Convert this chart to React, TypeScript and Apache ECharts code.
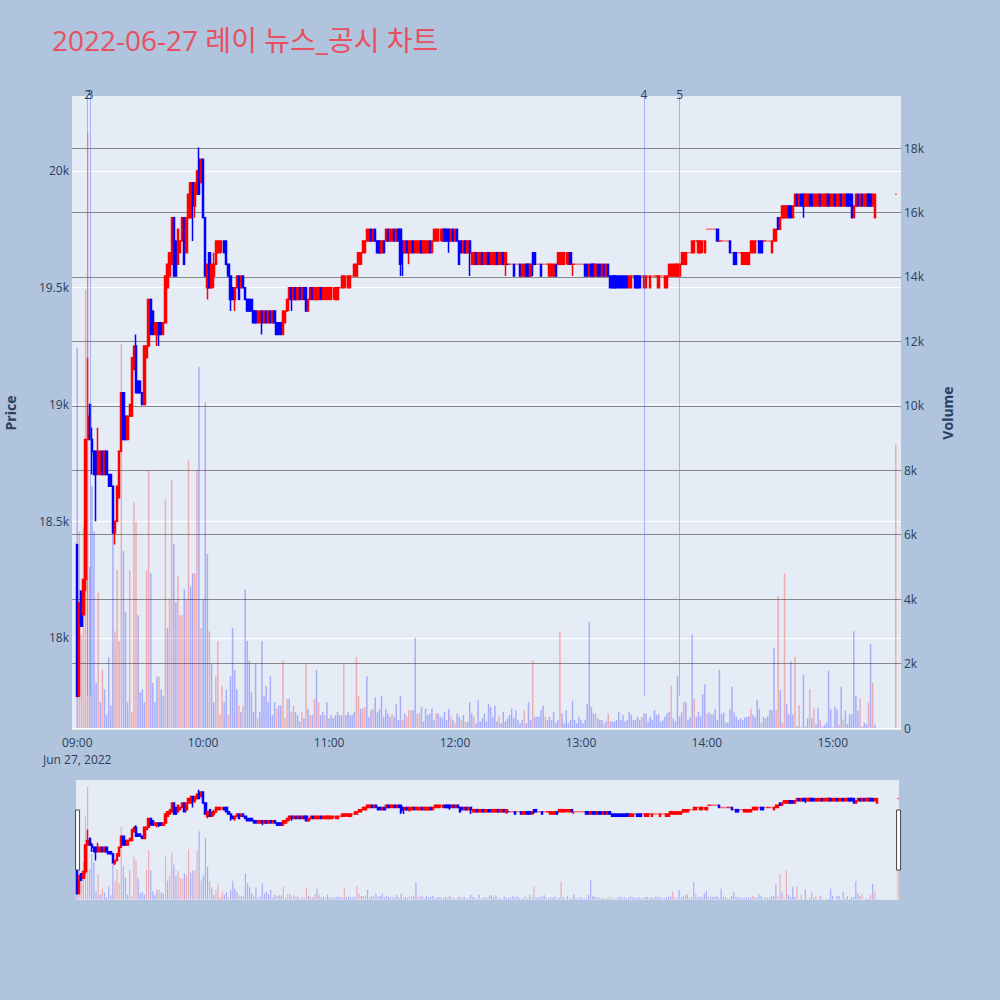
import React, { useEffect, useRef } from 'react';
import * as echarts from 'echarts';

// ---------------- DATA ----------------
const TITLE = '2022-06-27 레이 뉴스_공시 차트';
const DATE_LABEL = 'Jun 27, 2022';

// one candle per minute from 09:00: [open, close, low, high]
const candles09 = [
  [18400, 17750, 17750, 18400], [17750, 18150, 17750, 18150], [18200, 18050, 18050, 18200], [18100, 18250, 18100, 18250], [18250, 18850, 18200, 18850],
  [18850, 18950, 18850, 19200], [19000, 18850, 18850, 19000], [18850, 18800, 18700, 18900], [18800, 18700, 18700, 18800], [18800, 18700, 18500, 18800],
  [18700, 18800, 18700, 18900], [18700, 18800, 18700, 18800], [18800, 18700, 18700, 18800], [18700, 18800, 18700, 18800], [18800, 18700, 18700, 18800],
  [18700, 18650, 18650, 18700], [18700, 18650, 18650, 18700], [18650, 18450, 18450, 18650], [18450, 18500, 18400, 18500], [18500, 18650, 18500, 18650],
  [18600, 18800, 18600, 18800], [18800, 19050, 18800, 19050], [19050, 18850, 18850, 19050], [18950, 18850, 18850, 18950], [18850, 18950, 18850, 18950],
  [18950, 19000, 18950, 19000], [18950, 19200, 18950, 19200], [19150, 19250, 19150, 19250], [19250, 19050, 19050, 19300], [19100, 19050, 19050, 19100],
  [19100, 19050, 19050, 19100], [19050, 19000, 19000, 19050], [19000, 19250, 19000, 19250], [19200, 19250, 19200, 19250], [19250, 19450, 19250, 19450],
  [19450, 19300, 19300, 19450], [19400, 19300, 19300, 19400], [19300, 19350, 19300, 19350], [19300, 19350, 19250, 19350], [19350, 19300, 19250, 19350],
  [19350, 19300, 19300, 19350], [19300, 19350, 19300, 19350], [19350, 19550, 19350, 19550], [19500, 19600, 19500, 19600], [19550, 19650, 19550, 19650],
  [19600, 19800, 19600, 19800], [19800, 19550, 19550, 19800], [19700, 19550, 19550, 19700], [19600, 19750, 19600, 19750], [19650, 19700, 19650, 19700],
  [19700, 19800, 19700, 19800], [19800, 19600, 19600, 19800], [19650, 19800, 19650, 19800], [19800, 19900, 19800, 19900], [19800, 19950, 19800, 19950],
  [19950, 19850, 19700, 19950], [19850, 19950, 19800, 19950], [19900, 20000, 19900, 20000], [20050, 19900, 19900, 20100], [19950, 20050, 19950, 20050],
];
const candles10 = [
  [20050, 19800, 19800, 20050], [19800, 19550, 19550, 19800], [19500, 19600, 19450, 19600], [19650, 19500, 19500, 19650], [19500, 19600, 19500, 19600],
  [19550, 19600, 19500, 19650], [19600, 19700, 19600, 19700], [19650, 19700, 19650, 19700], [19650, 19700, 19650, 19700], [19700, 19700, 19650, 19700],
  [19700, 19650, 19650, 19700], [19700, 19600, 19600, 19700], [19600, 19550, 19550, 19600], [19550, 19450, 19400, 19550], [19500, 19450, 19450, 19500],
  [19450, 19500, 19400, 19500], [19500, 19550, 19500, 19550], [19550, 19450, 19450, 19550], [19500, 19550, 19500, 19550], [19550, 19500, 19500, 19550],
  [19500, 19450, 19450, 19500], [19450, 19400, 19400, 19450], [19450, 19400, 19400, 19450], [19450, 19400, 19400, 19450], [19400, 19350, 19350, 19400],
  [19400, 19350, 19350, 19400], [19350, 19400, 19350, 19400], [19350, 19400, 19350, 19400], [19400, 19350, 19300, 19400], [19350, 19400, 19350, 19400],
  [19400, 19350, 19350, 19400], [19350, 19400, 19350, 19400], [19400, 19350, 19350, 19400], [19350, 19400, 19350, 19400], [19400, 19350, 19350, 19400],
  [19350, 19300, 19300, 19350], [19350, 19300, 19300, 19350], [19350, 19300, 19300, 19350], [19300, 19400, 19300, 19400], [19350, 19400, 19350, 19400],
  [19400, 19450, 19400, 19450], [19450, 19500, 19400, 19500], [19500, 19450, 19400, 19500], [19450, 19500, 19450, 19500], [19500, 19450, 19450, 19500],
  [19450, 19500, 19450, 19500], [19500, 19450, 19450, 19500], [19450, 19500, 19450, 19500], [19500, 19450, 19450, 19500], [19500, 19400, 19400, 19500],
  [19400, 19450, 19400, 19450], [19450, 19500, 19450, 19500], [19500, 19450, 19450, 19500], [19450, 19500, 19450, 19500], [19450, 19500, 19450, 19500],
  [19450, 19500, 19450, 19500], [19500, 19450, 19450, 19500], [19450, 19500, 19450, 19500], [19450, 19500, 19450, 19500], [19450, 19500, 19450, 19500],
];
const candles11 = [
  [19450, 19500, 19450, 19500], [19450, 19500, 19450, 19500], [19500, 19500, 19450, 19500], [19450, 19500, 19450, 19500], [19450, 19500, 19450, 19500],
  [19500, 19500, 19500, 19500], [19500, 19550, 19500, 19550], [19500, 19550, 19500, 19550], [19550, 19550, 19500, 19550], [19500, 19550, 19500, 19550],
  [19500, 19550, 19500, 19550], [19550, 19550, 19550, 19550], [19550, 19600, 19550, 19600], [19550, 19600, 19550, 19600], [19600, 19650, 19600, 19650],
  [19600, 19650, 19600, 19650], [19650, 19700, 19650, 19700], [19650, 19700, 19650, 19700], [19700, 19750, 19700, 19750], [19700, 19750, 19700, 19750],
  [19750, 19700, 19700, 19750], [19700, 19750, 19700, 19750], [19750, 19700, 19700, 19750], [19700, 19650, 19650, 19700], [19700, 19650, 19650, 19700],
  [19650, 19700, 19650, 19700], [19700, 19650, 19650, 19700], [19700, 19750, 19700, 19750], [19750, 19700, 19700, 19750], [19700, 19750, 19700, 19750],
  [19700, 19750, 19700, 19750], [19750, 19700, 19700, 19750], [19700, 19750, 19700, 19750], [19750, 19700, 19700, 19750], [19750, 19600, 19550, 19750],
  [19700, 19650, 19550, 19700], [19650, 19700, 19650, 19700], [19700, 19650, 19650, 19700], [19650, 19700, 19600, 19700], [19650, 19700, 19650, 19700],
  [19700, 19650, 19650, 19700], [19650, 19700, 19650, 19700], [19650, 19700, 19650, 19700], [19650, 19700, 19650, 19700], [19700, 19650, 19650, 19700],
  [19650, 19700, 19650, 19700], [19650, 19700, 19650, 19700], [19650, 19700, 19650, 19700], [19700, 19650, 19650, 19700], [19650, 19700, 19650, 19700],
  [19700, 19750, 19700, 19750], [19700, 19750, 19700, 19750], [19700, 19750, 19700, 19750], [19750, 19750, 19700, 19750], [19700, 19750, 19700, 19750],
  [19750, 19700, 19700, 19750], [19750, 19700, 19700, 19750], [19750, 19700, 19650, 19750], [19700, 19750, 19700, 19750], [19750, 19700, 19700, 19750],
];
const candles12 = [
  [19700, 19750, 19700, 19750], [19750, 19700, 19700, 19750], [19700, 19600, 19600, 19700], [19700, 19650, 19650, 19700], [19650, 19700, 19650, 19700],
  [19700, 19650, 19650, 19700], [19650, 19700, 19650, 19700], [19700, 19650, 19550, 19700], [19600, 19650, 19600, 19650], [19600, 19650, 19600, 19650],
  [19650, 19600, 19600, 19650], [19600, 19650, 19600, 19650], [19600, 19650, 19600, 19650], [19650, 19600, 19600, 19650], [19600, 19650, 19600, 19650],
  [19600, 19650, 19600, 19650], [19650, 19600, 19600, 19650], [19600, 19650, 19600, 19650], [19600, 19650, 19600, 19650], [19600, 19650, 19600, 19650],
  [19650, 19600, 19600, 19650], [19600, 19650, 19600, 19650], [19600, 19650, 19600, 19650], [19650, 19600, 19600, 19650], [19600, 19650, 19550, 19650],
  [19600, 19600, 19600, 19600], [19600, 19600, 19600, 19600], [19600, 19600, 19600, 19600], [19600, 19550, 19550, 19600], [19600, 19600, 19600, 19600],
  [19600, 19600, 19600, 19600], [19600, 19550, 19550, 19600], [19550, 19600, 19550, 19600], [19550, 19600, 19550, 19600], [19600, 19550, 19550, 19600],
  [19600, 19550, 19550, 19600], [19550, 19600, 19550, 19600], [19650, 19600, 19550, 19650], [19650, 19600, 19600, 19650], [19600, 19600, 19600, 19600],
  [19600, 19600, 19600, 19600], [19600, 19550, 19550, 19600], [19600, 19600, 19600, 19600], [19600, 19600, 19600, 19600], [19600, 19600, 19600, 19600],
  [19550, 19600, 19550, 19600], [19550, 19600, 19550, 19600], [19550, 19600, 19550, 19600], [19600, 19550, 19550, 19600], [19600, 19650, 19600, 19650],
  [19600, 19650, 19600, 19650], [19600, 19650, 19600, 19650], [19600, 19650, 19600, 19650], [19650, 19650, 19600, 19650], [19600, 19650, 19600, 19650],
  [19650, 19600, 19600, 19650], [19600, 19600, 19550, 19600], [19600, 19600, 19600, 19600], [19600, 19600, 19600, 19600], [19600, 19600, 19600, 19600],
];
const candles13 = [
  [19600, 19600, 19600, 19600], [19600, 19600, 19600, 19600], [19600, 19550, 19550, 19600], [19600, 19550, 19550, 19600], [19550, 19600, 19550, 19600],
  [19600, 19550, 19550, 19600], [19600, 19550, 19550, 19600], [19550, 19600, 19550, 19600], [19600, 19550, 19550, 19600], [19600, 19550, 19550, 19600],
  [19550, 19600, 19550, 19600], [19600, 19550, 19550, 19600], [19550, 19600, 19550, 19600], [19600, 19550, 19550, 19600], [19550, 19500, 19500, 19550],
  [19550, 19500, 19500, 19550], [19550, 19500, 19500, 19550], [19550, 19500, 19500, 19550], [19550, 19500, 19500, 19550], [19550, 19500, 19500, 19550],
  [19550, 19500, 19500, 19550], [19550, 19500, 19500, 19550], [19550, 19500, 19500, 19550], [19500, 19550, 19500, 19550], [19500, 19550, 19500, 19550],
  [19550, 19550, 19550, 19550], [19550, 19500, 19500, 19550], [19550, 19500, 19500, 19550], [19550, 19500, 19500, 19550], [19550, 19550, 19550, 19550],
  [19500, 19550, 19500, 19550], [19500, 19550, 19500, 19550], [19550, 19550, 19550, 19550], [19500, 19550, 19500, 19550], [19550, 19550, 19550, 19550],
  [19550, 19550, 19550, 19550], [19550, 19550, 19550, 19550], [19500, 19550, 19500, 19550], [19550, 19550, 19550, 19550], [19550, 19550, 19550, 19550],
  [19500, 19550, 19500, 19550], [19500, 19550, 19500, 19550], [19550, 19600, 19550, 19600], [19550, 19600, 19550, 19600], [19550, 19600, 19550, 19600],
  [19550, 19600, 19550, 19600], [19550, 19600, 19550, 19600], [19550, 19600, 19550, 19600], [19600, 19650, 19600, 19650], [19600, 19650, 19600, 19650],
  [19600, 19650, 19600, 19650], [19650, 19650, 19650, 19650], [19650, 19650, 19650, 19650], [19650, 19700, 19650, 19700], [19650, 19700, 19650, 19700],
  [19700, 19700, 19700, 19700], [19650, 19700, 19650, 19700], [19650, 19700, 19650, 19700], [19700, 19700, 19650, 19700], [19650, 19700, 19650, 19700],
];
const candles14 = [
  [19750, 19750, 19750, 19750], [19750, 19750, 19750, 19750], [19750, 19750, 19750, 19750], [19750, 19750, 19750, 19750], [19750, 19750, 19750, 19750],
  [19750, 19700, 19700, 19750], [19700, 19700, 19700, 19700], [19700, 19700, 19700, 19700], [19700, 19700, 19700, 19700], [19700, 19700, 19700, 19700],
  [19700, 19700, 19700, 19700], [19700, 19650, 19650, 19700], [19650, 19650, 19650, 19650], [19650, 19600, 19600, 19650], [19650, 19600, 19600, 19650],
  [19650, 19650, 19650, 19650], [19650, 19650, 19650, 19650], [19600, 19650, 19600, 19650], [19600, 19650, 19600, 19650], [19600, 19650, 19600, 19650],
  [19600, 19650, 19600, 19650], [19650, 19700, 19650, 19700], [19650, 19700, 19650, 19700], [19650, 19700, 19650, 19700], [19700, 19700, 19700, 19700],
  [19700, 19650, 19650, 19700], [19700, 19650, 19650, 19700], [19700, 19700, 19700, 19700], [19700, 19700, 19700, 19700], [19700, 19700, 19700, 19700],
  [19700, 19700, 19700, 19700], [19650, 19700, 19650, 19700], [19700, 19750, 19700, 19750], [19700, 19750, 19700, 19750], [19800, 19750, 19750, 19800],
  [19750, 19800, 19750, 19800], [19800, 19850, 19800, 19850], [19800, 19850, 19800, 19850], [19800, 19850, 19800, 19850], [19850, 19800, 19800, 19850],
  [19850, 19800, 19800, 19850], [19800, 19850, 19800, 19850], [19850, 19900, 19850, 19900], [19900, 19850, 19850, 19900], [19850, 19900, 19850, 19900],
  [19900, 19850, 19850, 19900], [19900, 19850, 19800, 19900], [19850, 19900, 19850, 19900], [19850, 19900, 19850, 19900], [19900, 19850, 19850, 19900],
  [19900, 19850, 19850, 19900], [19850, 19900, 19850, 19900], [19850, 19900, 19850, 19900], [19850, 19900, 19850, 19900], [19900, 19850, 19850, 19900],
  [19850, 19900, 19850, 19900], [19850, 19900, 19850, 19900], [19850, 19900, 19850, 19900], [19900, 19850, 19850, 19900], [19850, 19900, 19850, 19900],
];
const candles15 = [
  [19850, 19900, 19850, 19900], [19900, 19850, 19850, 19900], [19850, 19900, 19850, 19900], [19850, 19900, 19850, 19900], [19900, 19850, 19850, 19900],
  [19850, 19900, 19850, 19900], [19850, 19900, 19850, 19900], [19900, 19850, 19850, 19900], [19900, 19850, 19850, 19900], [19900, 19800, 19800, 19900],
  [19800, 19850, 19800, 19850], [19850, 19900, 19850, 19900], [19900, 19850, 19850, 19900], [19850, 19900, 19850, 19900], [19900, 19850, 19850, 19900],
  [19850, 19900, 19850, 19900], [19850, 19900, 19850, 19900], [19900, 19850, 19850, 19900], [19900, 19850, 19850, 19900], [19850, 19900, 19850, 19900],
  [19800, 19900, 19800, 19900],
];
// closing single-price auction at 15:30
const closingTime = '15:30';
const closingCandle = [19900, 19900, 19900, 19900];
const closingSide = 'u';
const closingVolume = 8800;

// volume per minute from 09:00
const volume09 = [
  11800, 6100, 2900, 6200, 13600, 18500, 5000, 7500, 6100, 1400,
  4200, 800, 1800, 1200, 400, 2200, 700, 6600, 3000, 4900,
  2700, 11900, 5500, 3600, 800, 4900, 500, 7000, 6400, 3500,
  1100, 1200, 800, 4900, 8000, 4800, 1400, 800, 1600, 1600,
  1200, 1000, 7100, 3100, 4000, 7700, 5700, 3900, 4700, 3500,
  3500, 4300, 4000, 8300, 4400, 4800, 4800, 8000, 11200, 3100,
];
const volume10 = [
  4000, 10100, 5400, 3000, 2000, 800, 1600, 2700, 400, 1300,
  800, 1200, 400, 1600, 3100, 1800, 1200, 700, 500, 700,
  4300, 2700, 2100, 1100, 500, 2000, 300, 500, 2700, 1000,
  1300, 800, 1600, 400, 800, 600, 700, 700, 2100, 300,
  900, 900, 500, 700, 500, 400, 200, 500, 300, 2000,
  600, 400, 400, 900, 1800, 800, 400, 500, 400, 800,
];
const volume11 = [
  300, 400, 300, 400, 500, 400, 400, 2000, 400, 500,
  400, 400, 500, 2200, 1000, 600, 600, 650, 1600, 350,
  550, 600, 950, 500, 600, 1000, 350, 600, 450, 350,
  450, 350, 750, 250, 1000, 250, 450, 350, 550, 550,
  550, 2800, 450, 450, 650, 200, 600, 400, 450, 600,
  250, 450, 450, 350, 300, 500, 250, 600, 350, 250,
];
const volume12 = [
  150, 450, 350, 250, 400, 200, 200, 800, 450, 350,
  150, 850, 200, 300, 450, 200, 750, 650, 350, 700,
  200, 350, 150, 500, 200, 300, 400, 600, 300, 550,
  250, 150, 250, 550, 150, 800, 250, 2100, 350, 350,
  350, 550, 700, 350, 250, 350, 250, 500, 150, 250,
  3000, 450, 150, 550, 150, 250, 850, 250, 150, 350,
];
const volume13 = [
  250, 150, 250, 750, 3300, 650, 450, 450, 300, 250,
  250, 150, 200, 450, 200, 200, 200, 250, 500, 250,
  400, 200, 250, 500, 400, 250, 250, 350, 250, 350,
  450, 450, 200, 350, 250, 550, 400, 430, 200, 230,
  350, 450, 500, 1300, 300, 200, 1600, 350, 500, 800,
  800, 230, 330, 2900, 900, 350, 500, 370, 1050, 1350,
];
const volume14 = [
  450, 480, 430, 430, 600, 250, 1800, 430, 480, 170,
  170, 580, 1280, 480, 350, 250, 300, 250, 330, 330,
  370, 600, 400, 330, 870, 600, 170, 350, 300, 370,
  560, 560, 2500, 560, 4100, 1180, 170, 4800, 740, 430,
  2060, 430, 2200, 60, 700, 20, 1650, 60, 300, 1200,
  300, 600, 100, 640, 250, 40, 100, 170, 1780, 580,
];
const volume15 = [
  20, 660, 580, 120, 1280, 270, 540, 120, 430, 430,
  3000, 1000, 540, 920, 40, 170, 120, 790, 2600, 1400,
  100,
];
// volume side per minute: u = rising (red), d = falling (blue)
const volumeSide09 = 'duuuuudddd ududdddduu uuddduuuud ddduuddddu dduduudduu uduudduudu';
const volumeSide10 = 'dddudduuuu dduddddudu dddddduddd dddddudduu uduudddudu dudududdud';
const volumeSide11 = 'dddddddudd ddduuduudd dudddddddd udddduduuu dduudddddd duddddddud';
const volumeSide12 = 'uddududddu dddddddddd dudddddddd dddudddudd dddudddddd uddddddddd';
const volumeSide13 = 'dddddddudd dududddddd dddddddddu dddddddddd dddudddddu dddduddddd';
const volumeSide14 = 'uddddddddd dddddddddd dudddduddd ddduuduudd ddududdudu dudduddddd';
const volumeSide15 = 'uddududddd dddudddudu d';

// news markers
const newsTimes = ['09:05', '09:06', '13:30', '13:47'];
const newsLabels = ['2', '3', '4', '5'];
const newsLineFromVolume = 1000;

// axis ranges
const PRICE_MIN = 17606;
const PRICE_MAX = 20321;
const VOLUME_MIN = -62;
const VOLUME_MAX = 19614;

// ---------------- BUILD ----------------
const FONT = '"Open Sans", "Noto Sans CJK KR", Verdana, sans-serif';
const AXIS_COLOR = '#2a3f5f';
const UP = '#ff0000';
const DOWN = '#0000ff';
const UP_VOL = 'rgba(255,0,0,0.27)';
const DOWN_VOL = 'rgba(0,0,255,0.27)';

const dayCandles = [...candles09, ...candles10, ...candles11, ...candles12, ...candles13, ...candles14, ...candles15];
const dayVolume = [...volume09, ...volume10, ...volume11, ...volume12, ...volume13, ...volume14, ...volume15];
const daySide = (volumeSide09 + volumeSide10 + volumeSide11 + volumeSide12 + volumeSide13 + volumeSide14 + volumeSide15).replace(/\s/g, '');

function timeLabel(m: number): string {
  const t = 9 * 60 + m;
  const h = Math.floor(t / 60);
  const mi = ((t % 60) + 60) % 60;
  return String(h).padStart(2, '0') + ':' + String(mi).padStart(2, '0');
}

function categoriesBetween(from: number, to: number): string[] {
  const out: string[] = [];
  for (let m = from; m <= to; m++) out.push(timeLabel(m));
  return out;
}

const dayTimes = dayCandles.map((_, i) => timeLabel(i));

function candleItem(t: string): any {
  const i = dayTimes.indexOf(t);
  if (i >= 0) return dayCandles[i];
  if (t === closingTime) {
    const c = closingSide === 'u' ? UP : DOWN;
    return { value: closingCandle, itemStyle: { color: c, color0: c, borderColor: c, borderColor0: c } };
  }
  return ['-', '-', '-', '-'];
}

function volumeItem(t: string): any {
  const i = dayTimes.indexOf(t);
  if (i >= 0) return { value: dayVolume[i], itemStyle: { color: daySide[i] === 'u' ? UP_VOL : DOWN_VOL } };
  if (t === closingTime) return { value: closingVolume, itemStyle: { color: closingSide === 'u' ? UP_VOL : DOWN_VOL } };
  return '-';
}

function buildOption(): any {
  const mainCats = categoriesBetween(-2, 392);
  const sliderCats = categoriesBetween(0, 390);
  const fmtPrice = (v: number) => (v % 500 === 0 ? v / 1000 + 'k' : '');
  const fmtVol = (v: number) => (v === 0 ? '0' : v > 0 && v % 2000 === 0 ? v / 1000 + 'k' : '');
  const candleStyle = { color: UP, color0: DOWN, borderColor: UP, borderColor0: DOWN };

  return {
    animation: false,
    backgroundColor: '#b0c4de',
    textStyle: { fontFamily: FONT },
    title: {
      text: TITLE,
      left: 47,
      top: 21,
      textStyle: { color: '#e8505f', fontSize: 28, fontWeight: 'normal', fontFamily: FONT },
    },
    grid: [
      { left: 72, top: 96, width: 829, height: 634, show: true, backgroundColor: '#e5ecf6', borderWidth: 0, containLabel: false, outerBoundsMode: 'none' },
      { left: 76, top: 780, width: 823, height: 120, show: true, backgroundColor: '#e5ecf6', borderWidth: 0, containLabel: false, outerBoundsMode: 'none' },
    ],
    xAxis: [
      {
        type: 'category', gridIndex: 0, data: mainCats, boundaryGap: true,
        axisLine: { show: false }, axisTick: { show: false }, splitLine: { show: false },
        axisLabel: {
          interval: (_i: number, v: string) => v.endsWith(':00'),
          formatter: (v: string) => (v === '09:00' ? '09:00\n' + DATE_LABEL : v),
          color: AXIS_COLOR, fontSize: 12, margin: 4, lineHeight: 17, fontFamily: FONT,
        },
      },
      { type: 'category', gridIndex: 1, data: sliderCats, boundaryGap: true, show: false },
    ],
    yAxis: [
      {
        type: 'value', gridIndex: 0, position: 'left', min: PRICE_MIN, max: PRICE_MAX, splitNumber: 5,
        axisLine: { show: false }, axisTick: { show: false },
        splitLine: { show: true, showMinLine: false, showMaxLine: false, lineStyle: { color: '#ffffff', width: 1 } },
        axisLabel: { formatter: fmtPrice, color: AXIS_COLOR, fontSize: 12, margin: 3, showMinLabel: false, showMaxLabel: false, fontFamily: FONT },
        name: 'Price', nameLocation: 'middle', nameGap: 55, nameRotate: 90,
        nameTextStyle: { color: AXIS_COLOR, fontSize: 14, fontWeight: 'bold', fontFamily: FONT },
      },
      {
        type: 'value', gridIndex: 0, position: 'right', min: VOLUME_MIN, max: VOLUME_MAX, splitNumber: 10,
        axisLine: { show: false }, axisTick: { show: false },
        splitLine: {
          show: true, showMinLine: false, showMaxLine: false,
          lineStyle: { color: ['#ffffff', '#888888', '#888888', '#888888', '#888888', '#888888', '#888888', '#888888', '#888888', '#888888'], width: 1 },
        },
        axisLabel: { formatter: fmtVol, color: AXIS_COLOR, fontSize: 12, margin: 3, showMinLabel: false, showMaxLabel: false, fontFamily: FONT },
        name: 'Volume', nameLocation: 'middle', nameGap: 39, nameRotate: 90,
        nameTextStyle: { color: AXIS_COLOR, fontSize: 14, fontWeight: 'bold', fontFamily: FONT },
      },
      { type: 'value', gridIndex: 1, min: PRICE_MIN, max: PRICE_MAX, show: false, splitLine: { show: false } },
      { type: 'value', gridIndex: 1, min: VOLUME_MIN, max: VOLUME_MAX, show: false, splitLine: { show: false } },
    ],
    dataZoom: [
      {
        type: 'slider', xAxisIndex: 1, filterMode: 'none', start: 0, end: 100,
        left: 76, right: 101, top: 780, height: 120,
        showDataShadow: false, showDetail: false, brushSelect: false, zoomLock: true,
        backgroundColor: 'rgba(0,0,0,0)', borderColor: 'rgba(0,0,0,0)', fillerColor: 'rgba(0,0,0,0)',
        handleIcon: 'path://M0,0 L4,0 L4,60 L0,60 Z', handleSize: '50%',
        handleStyle: { color: '#ffffff', borderColor: '#444444', borderWidth: 1 },
        moveHandleSize: 0, moveHandleStyle: { opacity: 0 },
        emphasis: { handleStyle: { color: '#ffffff', borderColor: '#444444' } },
      },
    ],
    series: [
      {
        name: 'Volume', type: 'bar', xAxisIndex: 0, yAxisIndex: 1, barWidth: 1.5,
        data: mainCats.map(volumeItem), silent: true,
        markLine: {
          symbol: 'none', silent: true,
          lineStyle: { color: 'rgba(70,110,255,0.45)', width: 1, type: 'solid' },
          label: { show: true, position: 'end', formatter: '{b}', color: AXIS_COLOR, fontSize: 12, distance: -4, fontFamily: FONT },
          emphasis: { disabled: true },
          data: newsTimes.map((t, i) => [
            { name: newsLabels[i], coord: [t, newsLineFromVolume] },
            { coord: [t, VOLUME_MAX] },
          ]),
        },
      },
      {
        name: 'Price', type: 'candlestick', xAxisIndex: 0, yAxisIndex: 0, barWidth: 1.8,
        itemStyle: { ...candleStyle, borderWidth: 1.5 },
        data: mainCats.map(candleItem), silent: true,
      },
      {
        name: 'VolumeMini', type: 'bar', xAxisIndex: 1, yAxisIndex: 3, barWidth: 1.2,
        data: sliderCats.map(volumeItem), silent: true,
      },
      {
        name: 'PriceMini', type: 'candlestick', xAxisIndex: 1, yAxisIndex: 2, barWidth: 1.8,
        itemStyle: { ...candleStyle, borderWidth: 1.5 },
        data: sliderCats.map(candleItem), silent: true,
      },
    ],
  };
}

export default function App() {
  const ref = useRef<HTMLDivElement>(null);
  useEffect(() => {
    document.body.style.margin = '0';
    const chart = echarts.init(ref.current as HTMLDivElement, null, { renderer: 'svg' });
    chart.setOption(buildOption());
    return () => chart.dispose();
  }, []);
  return <div ref={ref} style={{ position: 'absolute', left: 0, top: 0, width: 1000, height: 1000 }} />;
}
